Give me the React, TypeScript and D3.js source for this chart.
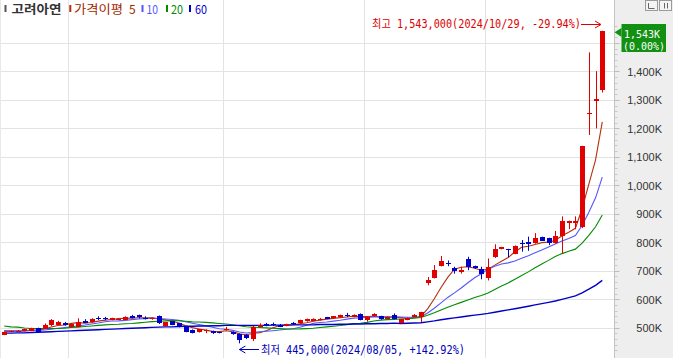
import React from 'react';
import * as d3 from 'd3';

// ---- data (prices in thousands of KRW) ----
const dates = [
  '2024/06/17','2024/06/18','2024/06/19','2024/06/20','2024/06/21','2024/06/24','2024/06/25','2024/06/26','2024/06/27','2024/06/28',
  '2024/07/01','2024/07/02','2024/07/03','2024/07/04','2024/07/05','2024/07/08','2024/07/09','2024/07/10','2024/07/11','2024/07/12',
  '2024/07/15','2024/07/16','2024/07/17','2024/07/18','2024/07/19','2024/07/22','2024/07/23','2024/07/24','2024/07/25','2024/07/26',
  '2024/07/29','2024/07/30','2024/07/31',
  '2024/08/01','2024/08/02','2024/08/05','2024/08/06','2024/08/07','2024/08/08','2024/08/09','2024/08/12','2024/08/13','2024/08/14',
  '2024/08/16','2024/08/19','2024/08/20','2024/08/21','2024/08/22','2024/08/23','2024/08/26','2024/08/27','2024/08/28','2024/08/29','2024/08/30',
  '2024/09/02','2024/09/03','2024/09/04','2024/09/05','2024/09/06','2024/09/09','2024/09/10','2024/09/11','2024/09/12','2024/09/13',
  '2024/09/19','2024/09/20','2024/09/23','2024/09/24','2024/09/25','2024/09/26','2024/09/27','2024/09/30',
  '2024/10/02','2024/10/04','2024/10/07','2024/10/08','2024/10/10','2024/10/11','2024/10/14','2024/10/15','2024/10/16','2024/10/17',
  '2024/10/18','2024/10/21','2024/10/22','2024/10/23','2024/10/24','2024/10/25','2024/10/28','2024/10/29',
];
const opens = [
  476,486,486,489,489,499,497,508,511,518, 501,504,525,520,535,533,528,529,528,542,
  543,535,530,540,507,522,515,501,493,485, 488,489,484,495,485,479,476,461,504,512,
  513,511,507,516,517,523,525,527,537,533, 537,544,539,548,528,540,541,532,546,518,
  528,538,539,657,675,717,726,708,694,743, 716,705,675,747,776,776,760,798,802,796,
  818,815,796,822,867,867,855,1249,1298,1334,
];
const highs = [
  487,491,492,497,500,500,515,530,524,520, 515,533,530,533,540,538,535,534,540,545,
  546,540,536,543,520,523,516,502,494,496, 494,490,486,503,487,480,478,506,515,517,
  518,513,514,520,528,532,533,534,538,541, 546,552,547,550,540,551,542,540,550,530,
  536,548,556,678,720,752,736,714,714,749, 718,714,743,793,784,777,789,808,820,832,
  820,816,840,891,876,891,1139,1467,1401,1543,
];
const lows = [
  474,484,485,487,488,484,496,505,509,507, 500,502,516,519,527,526,526,527,527,533,
  532,529,528,513,505,509,501,484,480,483, 481,478,480,490,475,445,460,453,502,505,
  506,502,505,510,515,521,523,525,530,531, 535,537,537,526,521,538,528,531,529,515,
  526,536,520,649,673,715,716,690,690,702, 706,670,666,745,775,747,758,767,770,795,
  805,790,795,760,846,846,850,1177,1200,1326,
];
const closes = [
  486,489,490,494,499,485,508,526,521,508, 513,521,518,532,531,531,533,532,538,535,
  536,533,534,515,519,511,503,486,482,495, 492,480,482,497,477,456,465,504,511,510,
  511,504,512,514,527,530,530,532,532,540, 543,542,546,527,539,548,530,539,531,529,
  534,546,554,669,704,734,723,698,702,714, 708,687,714,776,783,773,787,794,793,814,
  806,796,822,876,876,876,1139,1254,1302,1543,
];

const ma5Head = [486, 487, 488, 489];
const ma10Head = [490, 489, 489, 489, 490, 490, 492, 495, 498];
const ma20Head = [506, 503, 502, 499, 497, 497, 497, 497, 497, 498, 501, 502, 504, 506, 508, 510, 511, 512, 514];
const ma60Head = [
  481,481,482,482,483,484,485,486,487,488, 489,490,491,492,493,494,495,496,497,498,
  499,500,501,502,503,503,504,505,505,506, 506,507,507,508,508,508,508,508,508,508,
  509,509,509,510,510,510,510,511,511,511, 512,512,513,513,514,514,515,515,516,
];

const maPeriods = [5, 10, 20, 60];
const maHeads = [ma5Head, ma10Head, ma20Head, ma60Head];
const maColors = ['#b3300c', '#5555ff', '#008c00', '#0000c8'];
const maLabels = ['5', '10', '20', '60'];

const yTicks = [500, 600, 700, 800, 900, 1000, 1100, 1200, 1300, 1400, 1500];
const yLabelTicks = [500, 600, 700, 800, 900, 1000, 1100, 1200, 1300, 1400];
const monthStarts = ['2024/07/01', '2024/08/01', '2024/09/02', '2024/10/02'];

const stockName = '고려아연';
const maTitle = '가격이평';
const highText = '최고 1,543,000(2024/10/29, -29.94%)';
const lowText = '최저 445,000(2024/08/05, +142.92%)';
const lowDate = '2024/08/05';
const highValue = 1543;
const currentLabel = '1,543K';
const currentPct = '(0.00%)';

const W = 673;
const H = 358;
const AXIS_X = 614.5;
const UP = '#e00000';
const DOWN = '#0000cc';

function movingAverage(n: number, head: number[]) {
  return closes.map((_, i) => (i < n - 1 ? head[i] : d3.mean(closes.slice(i - n + 1, i + 1)) as number));
}

export default function App() {
  const x = d3.scaleBand<string>().domain(dates).range([0.84, 605.64]).padding(0);
  const bw = x.bandwidth();
  const cx = (d: string) => (x(d) as number) + bw / 2;
  const y = d3.scaleLinear().domain([500, 1500]).range([327.7, 43]);

  const fmt = (v: number) => d3.format(',')(v) + 'K';
  const mas = maPeriods.map((n, k) => movingAverage(n, maHeads[k]));
  const line = d3
    .line<number>()
    .x((_, i) => cx(dates[i]))
    .y((v) => y(v));

  const mono = "'DejaVu Sans Mono', 'Noto Sans CJK KR', monospace";
  const kr = "'Noto Sans CJK KR', 'Noto Sans', sans-serif";

  const minor = d3.range(420, 1561, 20).filter((v) => v % 100 !== 0);

  const xLow = cx(lowDate);

  return (
    <svg
      width={W}
      height={H}
      style={{ position: 'absolute', left: 0, top: 0, display: 'block' }}
      fontFamily={kr}
    >
      <rect x={0} y={0} width={AXIS_X} height={H} fill="#ffffff" />
      <rect x={AXIS_X} y={0} width={W - AXIS_X} height={H} fill="#eeeeee" />

      {/* grid */}
      {yTicks.map((t) => (
        <line key={'g' + t} x1={0} x2={AXIS_X} y1={Math.round(y(t)) + 0.5} y2={Math.round(y(t)) + 0.5} stroke="#e3e3e3" />
      ))}
      {monthStarts.map((d) => (
        <line key={'v' + d} x1={Math.round(x(d) as number) + 0.5} x2={Math.round(x(d) as number) + 0.5} y1={0} y2={H} stroke="#e3e3e3" />
      ))}
      <line x1={0.5} x2={0.5} y1={0} y2={H} stroke="#e8e8e8" />

      {/* axis */}
      <line x1={AXIS_X} x2={AXIS_X} y1={0} y2={H} stroke="#c4c4c4" />
      {yTicks.map((t) => (
        <line key={'t' + t} x1={AXIS_X} x2={AXIS_X + 5} y1={Math.round(y(t)) + 0.5} y2={Math.round(y(t)) + 0.5} stroke="#bdbdbd" />
      ))}
      {minor.map((t) => (
        <line key={'m' + t} x1={AXIS_X} x2={AXIS_X + 3} y1={Math.round(y(t)) + 0.5} y2={Math.round(y(t)) + 0.5} stroke="#c8c8c8" />
      ))}
      {yLabelTicks.map((t) => (
        <text
          key={'l' + t}
          x={662}
          y={y(t) + 1.5}
          textAnchor="end"
          dominantBaseline="middle"
          fontFamily="'Liberation Sans', Arial, sans-serif"
          fontSize={11}
          fill="#333333"
        >
          {fmt(t)}
        </text>
      ))}

      {/* top-right toolbar buttons */}
      <rect x={645.5} y={0.5} width={12} height={10} fill="#f4f4f4" stroke="#9a9a9a" />
      <rect x={659.5} y={0.5} width={12} height={10} fill="#f4f4f4" stroke="#9a9a9a" />
      <path d="M648.5,3 V8.5 H654.5 M664.5,3 V8.5 M667.5,3 V8.5" fill="none" stroke="#666666" />

      {/* moving averages */}
      {mas.map((m, k) => (
        <path key={'ma' + k} d={line(m) as string} fill="none" stroke={maColors[k]} strokeWidth={k === 3 ? 1.4 : 1.1} />
      ))}

      {/* candles */}
      {dates.map((d, i) => {
        const o = opens[i];
        const c = closes[i];
        const col = c >= o ? UP : DOWN;
        const xc = Math.round(cx(d));
        const top = Math.min(y(o), y(c));
        const bh = Math.max(1, Math.abs(y(o) - y(c)));
        return (
          <g key={'c' + d}>
            <line x1={xc + 0.5} x2={xc + 0.5} y1={y(highs[i])} y2={y(lows[i])} stroke={col} strokeWidth={1} />
            <rect x={xc - 2} y={top} width={5} height={bh} fill={col} shapeRendering="crispEdges" />
          </g>
        );
      })}

      {/* high annotation */}
      <text x={372} y={28} fontFamily={mono} fontSize={11.5} fill="#dd0000" textLength={209} lengthAdjust="spacingAndGlyphs">
        {highText}
      </text>
      <line x1={581} x2={600} y1={24.5} y2={24.5} stroke="#dd0000" />
      <path d={`M595,21 L601,24.5 L595,28`} fill="none" stroke="#dd0000" />

      {/* low annotation */}
      <line x1={xLow} x2={259} y1={349.5} y2={349.5} stroke="#0000bb" />
      <path d={`M${xLow + 6},346 L${xLow},349.5 L${xLow + 6},353`} fill="none" stroke="#0000bb" />
      <text x={261} y={353.5} fontFamily={mono} fontSize={11.5} fill="#0000bb" textLength={204} lengthAdjust="spacingAndGlyphs">
        {lowText}
      </text>

      {/* current price box */}
      <path d={`M${AXIS_X},${y(highValue) + 1.5} L621.5,28 L621.5,37 Z`} fill="#129012" />
      <rect x={621.5} y={24} width={44.5} height={28} fill="#129012" />
      <text x={624} y={35} fontFamily={mono} fontSize={11} fill="#ffffff" textLength={36} lengthAdjust="spacingAndGlyphs" dominantBaseline="middle">
        {currentLabel}
      </text>
      <text x={623} y={47} fontFamily={mono} fontSize={11} fill="#ffffff" textLength={42} lengthAdjust="spacingAndGlyphs" dominantBaseline="middle">
        {currentPct}
      </text>

      {/* legend */}
      <rect x={4.5} y={5} width={2} height={7} fill="#555555" />
      <text x={11.5} y={13.5} fontSize={12} fontWeight="bold" fill="#333333" textLength={50} lengthAdjust="spacingAndGlyphs">
        {stockName}
      </text>
      <rect x={69.3} y={5} width={2} height={7} fill={maColors[0]} />
      <text x={74} y={13.5} fontSize={12} fill="#a02800" textLength={49} lengthAdjust="spacingAndGlyphs">
        {maTitle}
      </text>
      <text x={129} y={13.5} fontSize={12} fill="#a02800">
        {maLabels[0]}
      </text>
      <rect x={141.5} y={5} width={2} height={7} fill={maColors[1]} />
      <text x={146.5} y={13.5} fontSize={12} fill={maColors[1]} textLength={11.5} lengthAdjust="spacingAndGlyphs">
        {maLabels[1]}
      </text>
      <rect x={166} y={5} width={2} height={7} fill={maColors[2]} />
      <text x={171} y={13.5} fontSize={12} fill={maColors[2]} textLength={12} lengthAdjust="spacingAndGlyphs">
        {maLabels[2]}
      </text>
      <rect x={189} y={5} width={2} height={7} fill={maColors[3]} />
      <text x={195} y={13.5} fontSize={12} fill={maColors[3]} textLength={12} lengthAdjust="spacingAndGlyphs">
        {maLabels[3]}
      </text>
    </svg>
  );
}
